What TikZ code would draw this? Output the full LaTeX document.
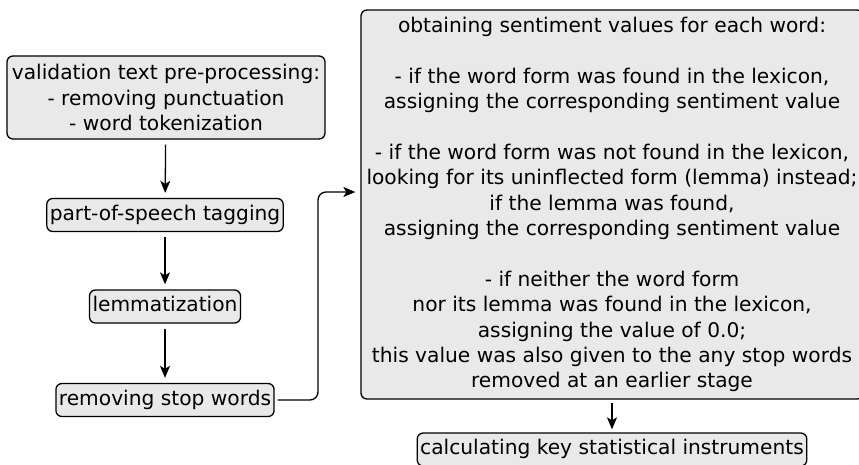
\documentclass[tikz,border=0pt]{standalone}
\usepackage{fontspec}
\setmainfont{DejaVu Sans}
\usetikzlibrary{arrows.meta}
\definecolor{boxfill}{RGB}{233,233,233}
\tikzset{
  stepbox/.style={draw=black, fill=boxfill, line width=1.3pt, rounded corners=6pt,
    align=center, inner xsep=3pt, inner ysep=6.5pt,
    text height=15pt, text depth=5pt,
    font=\fontsize{20.2}{25.4}\selectfont},
  bigbox/.style={stepbox, text height=, text depth=},
  conn/.style={line width=1.3pt, -{Stealth[length=12pt,width=10pt,inset=3pt]},
    shorten >=5pt, shorten <=5pt},
}
\begin{document}
\begin{tikzpicture}[x=1pt,y=-1pt]
\useasboundingbox (0,0) rectangle (859,464);
\fill[white] (0,0) rectangle (859,464);

\node[bigbox, minimum width=318pt, minimum height=83pt] (pre) at (166,97.5)
  {validation text pre-processing:\\- removing punctuation\\- word tokenization};
\node[stepbox] (pos) at (165,215) {part-of-speech tagging};
\node[stepbox] (lem) at (165,306.5) {lemmatization};
\node[stepbox] (stop) at (165,400) {removing stop words};

\node[bigbox, minimum width=502pt, minimum height=389pt] (big) at (612,204.5)
  {obtaining sentiment values for each word:\\~\\
   - if the word form was found in the lexicon,\\
   assigning the corresponding sentiment value\\~\\
   - if the word form was not found in the lexicon,\\
   looking for its uninflected form (lemma) instead;\\
   if the lemma was found,\\
   assigning the corresponding sentiment value\\~\\
   - if neither the word form\\
   nor its lemma was found in the lexicon,\\
   assigning the value of 0.0;\\
   this value was also given to the any stop words\\
   removed at an earlier stage};

\node[stepbox] (calc) at (612,449.5) {calculating key statistical instruments};

\draw[conn] (pre) -- (pos);
\draw[conn] (pos) -- (lem);
\draw[conn] (lem) -- (stop);
\coordinate (bend) at (318,192);
\draw[conn, shorten <=3pt, rounded corners=8pt] (stop.east) -| (bend) -- (bend -| big.west);
\draw[conn, shorten <=3pt, shorten >=3pt] (big) -- (calc);
\end{tikzpicture}
\end{document}
